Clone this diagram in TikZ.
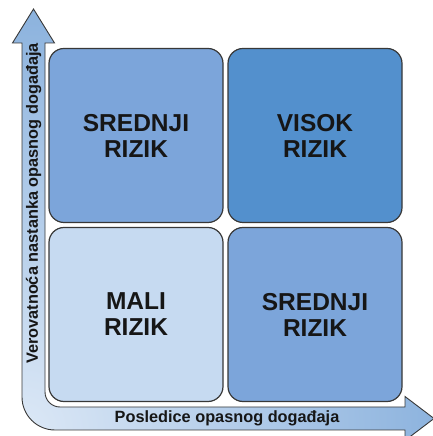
\documentclass[tikz,border=0pt]{standalone}
\usepackage{fontspec}
\setmainfont{Liberation Sans}
\usepackage{tikz}
\usetikzlibrary{
  % relative placement of the boxes
  positioning,%
  calc,%
  shapes.geometric
}
\tikzset{>=latex}
\definecolor{lowrisk}{HTML}{C6DAF1}
\definecolor{midrisk}{HTML}{7CA5DA}
\definecolor{highrisk}{HTML}{5390CD}
\definecolor{axislight}{HTML}{DCE8F6}
\definecolor{axisdark}{HTML}{5890CE}
\definecolor{edgegray}{HTML}{383838}
\definecolor{inkgray}{HTML}{161616}

\begin{document}
\begin{tikzpicture}[x=1pt, y=1pt,
    riskbox/.style={draw=edgegray, line width=1.2pt, rounded corners=15pt,
      minimum width=174pt, minimum height=174pt, inner sep=0pt, align=center,
      text=inkgray, font=\fontsize{24.5}{26}\selectfont\bfseries,
      preaction={draw=white, line width=4pt}},
    axislabel/.style={text=inkgray, font=\fontsize{16.3}{18}\selectfont\bfseries, inner sep=0pt}]
  \useasboundingbox (0,0) rectangle (433,436); %
  % the bent axis arrow
  \begin{scope}
    \clip (22,393) -- (12.5,393) -- (33.5,427) -- (54.5,393) -- (45,393) -- (45,44)
      arc[radius=15, start angle=180, end angle=270] -- (405,29) -- (405,39.5)
      -- (434,17.5) -- (405,-4.5) -- (405,6) -- (55,6)
      arc[radius=33, start angle=270, end angle=180] -- cycle; %
    \shade[inner color=axislight, outer color=axisdark] (22,6) circle (690); %
  \end{scope}
  \draw[edgegray, line width=0.9pt, line join=miter] (22,393) -- (12.5,393) -- (33.5,427)
    -- (54.5,393) -- (45,393) -- (45,44)
    arc[radius=15, start angle=180, end angle=270] -- (405,29) -- (405,39.5)
    -- (434,17.5) -- (405,-4.5) -- (405,6) -- (55,6)
    arc[radius=33, start angle=270, end angle=180] -- cycle; %
  \node[axislabel] (xlabel) at (227,17.5) {Posledice opasnog događaja}; %
  \node[axislabel, rotate=90] (ylabel) at (33.5,232.5) {Verovatnoća nastanka opasnog događaja}; %
  % the four risk fields
  \node[riskbox, fill=lowrisk] (mali) at (136,121.5) {MALI\\RIZIK}; %
  \node[riskbox, fill=midrisk, above=3.8pt of mali] (srednjiA) {SREDNJI\\RIZIK}; %
  \node[riskbox, fill=midrisk, right=3.8pt of mali] (srednjiB) {SREDNJI\\RIZIK}; %
  \node[riskbox, fill=highrisk, above=3.8pt of srednjiB] (visok) {VISOK\\RIZIK}; %
\end{tikzpicture}
\end{document}
